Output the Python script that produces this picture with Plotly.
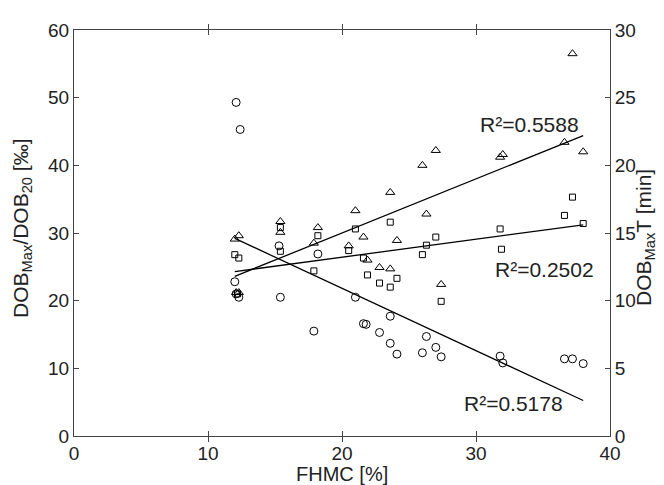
import plotly.graph_objects as go

# FHMC [%] vs DOB ratio (left axis units)
circ_x = [12.1, 12.4, 12.0, 12.1, 12.3, 15.3, 15.4, 17.9, 18.2, 21.0, 21.6, 21.8,
          22.8, 23.6, 23.6, 24.1, 26.0, 26.3, 27.0, 27.4, 31.8, 32.0, 36.6, 37.2, 38.0]
circ_y = [49.3, 45.3, 22.8, 21.0, 20.5, 28.1, 20.5, 15.5, 26.9, 20.5, 16.6, 16.5,
          15.3, 17.7, 13.7, 12.1, 12.3, 14.7, 13.1, 11.7, 11.8, 10.8, 11.4, 11.4, 10.7]

sq_x = [12.0, 12.3, 12.2, 15.4, 15.4, 17.9, 18.2, 20.5, 21.0, 21.6, 21.9, 22.8,
        23.6, 23.6, 24.1, 26.0, 26.3, 27.0, 27.4, 31.8, 31.9, 36.6, 37.2, 38.0]
sq_y = [26.8, 26.3, 21.0, 30.8, 27.3, 24.4, 29.6, 27.4, 30.6, 26.3, 23.8, 22.6,
        22.0, 31.6, 23.3, 26.8, 28.2, 29.4, 19.9, 30.6, 27.6, 32.6, 35.3, 31.4]

tri_x = [12.0, 12.3, 12.1, 12.3, 15.4, 15.4, 17.9, 18.2, 20.5, 21.0, 21.6, 21.9,
         22.8, 23.6, 23.6, 24.1, 26.0, 26.3, 27.0, 27.4, 31.8, 32.0, 36.6, 37.2, 38.0]
tri_y = [29.1, 29.6, 21.2, 21.2, 31.7, 30.1, 28.5, 30.8, 28.1, 33.3, 29.4, 26.0,
         24.9, 24.7, 36.0, 28.9, 40.0, 32.8, 42.2, 22.4, 41.2, 41.6, 43.4, 56.5, 42.0]

# regression line end points
fit_x = [12.0, 38.0]
tri_fit = [23.6, 44.4]
sq_fit = [24.3, 31.2]
circ_fit = [29.2, 5.25]

r2_labels = ["R²=0.5588", "R²=0.2502", "R²=0.5178"]
r2_x = [34.0, 35.1, 32.8]
r2_y = [46.1, 24.6, 4.8]

FONT = "Liberation Sans, Arial, Helvetica, sans-serif"
AX = "#444444"
TXT = "#222222"

fig = go.Figure()

marker_line = dict(color="black", width=1)
fig.add_trace(go.Scatter(x=circ_x, y=circ_y, mode="markers",
                         marker=dict(symbol="circle-open", size=8, color="black", line=marker_line)))
fig.add_trace(go.Scatter(x=sq_x, y=sq_y, mode="markers",
                         marker=dict(symbol="square-open", size=6, color="black", line=marker_line)))
fig.add_trace(go.Scatter(x=tri_x, y=tri_y, mode="markers",
                         marker=dict(symbol="triangle-up-open", size=8, color="black", line=marker_line)))

for fy in [tri_fit, sq_fit, circ_fit]:
    fig.add_trace(go.Scatter(x=fit_x, y=fy, mode="lines",
                             line=dict(color="black", width=1.3)))

# hidden trace so the right axis is drawn
fig.add_trace(go.Scatter(x=[0], y=[0], yaxis="y2", mode="markers",
                         marker=dict(opacity=0), hoverinfo="skip"))

for t, x, y in zip(r2_labels, r2_x, r2_y):
    fig.add_annotation(x=x, y=y, text=t, showarrow=False,
                       font=dict(family=FONT, size=21, color=TXT))

# axis titles as paper annotations (placed like the original)
title_font = dict(family=FONT, size=21, color=TXT)
fig.add_annotation(xref="paper", yref="paper", x=0.5, y=-0.093,
                   xanchor="center", yanchor="middle",
                   text="FHMC [%]", showarrow=False,
                   font=dict(family=FONT, size=20, color=TXT))
fig.add_annotation(xref="paper", yref="paper", x=-0.097, y=0.51,
                   xanchor="center", yanchor="middle", textangle=-90,
                   text="DOB<sub>Max</sub>/DOB<sub>20</sub> [‰]", showarrow=False,
                   font=title_font)
fig.add_annotation(xref="paper", yref="paper", x=1.065, y=0.49,
                   xanchor="center", yanchor="middle", textangle=-90,
                   text="DOB<sub>Max</sub>T [min]", showarrow=False,
                   font=title_font)

fig.update_layout(
    width=664, height=485,
    margin=dict(l=66, r=62, t=13, b=57),
    paper_bgcolor="white", plot_bgcolor="white",
    showlegend=False,
    font=dict(family=FONT, size=19, color=TXT),
    xaxis=dict(
        range=[0, 40], tickvals=[0, 10, 20, 30, 40],
        showline=True, linecolor=AX, linewidth=1, mirror="allticks",
        ticks="inside", ticklen=5, tickcolor=AX,
        showgrid=False, zeroline=False,
    ),
    yaxis=dict(
        range=[0, 60], tickvals=[0, 10, 20, 30, 40, 50, 60],
        showline=True, linecolor=AX, linewidth=1,
        ticks="inside", ticklen=5, tickcolor=AX,
        showgrid=False, zeroline=False,
    ),
    yaxis2=dict(
        range=[0, 30], tickvals=[0, 5, 10, 15, 20, 25, 30],
        overlaying="y", side="right",
        showline=True, linecolor=AX, linewidth=1,
        ticks="inside", ticklen=5, tickcolor=AX,
        showgrid=False, zeroline=False,
    ),
)

fig.write_html("out.html")
